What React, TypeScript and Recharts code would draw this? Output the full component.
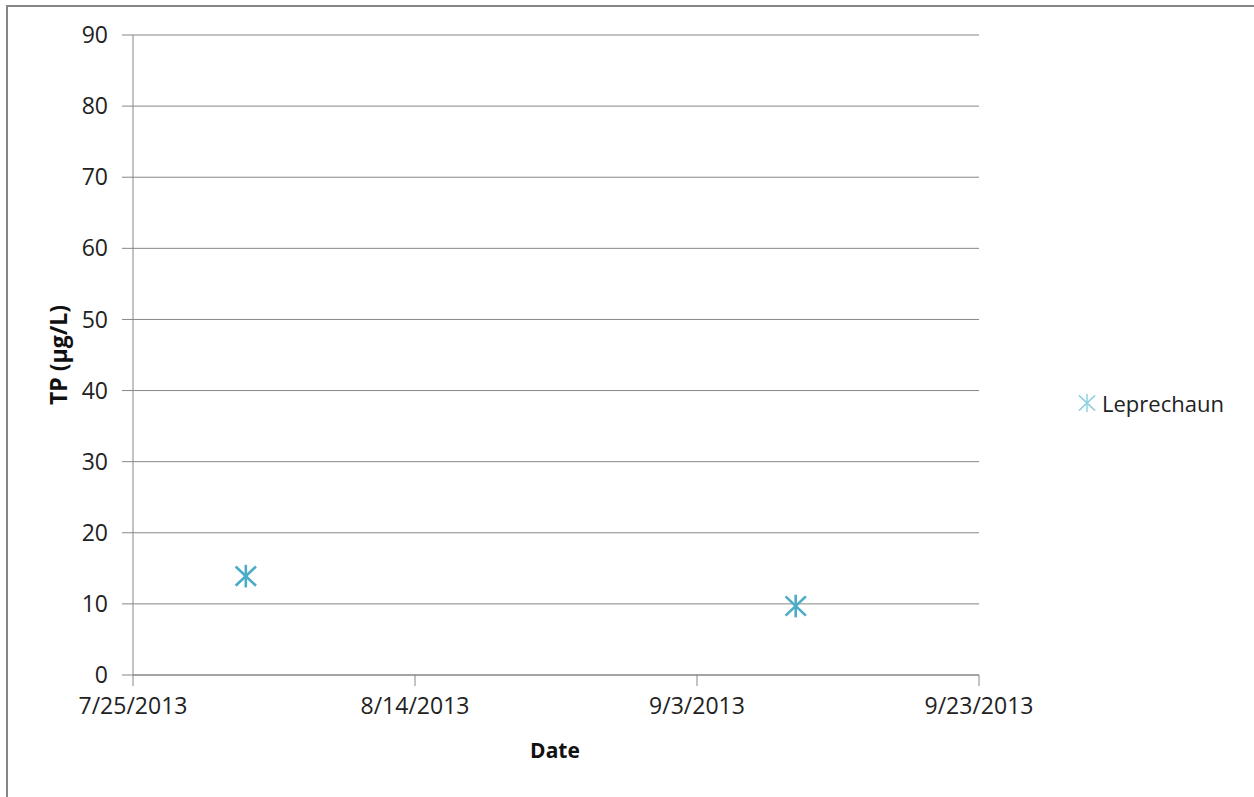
import { CartesianGrid, Scatter, ScatterChart, XAxis, YAxis } from "recharts";

// sample dates (M/D/YYYY) and total phosphorus readings
const SAMPLE_DATES = ["8/2/2013", "9/10/2013"];
const TP_VALUES = [13.9, 9.7];
const X_TICK_DATES = ["7/25/2013", "8/14/2013", "9/3/2013", "9/23/2013"];
const Y_TICKS = [0, 10, 20, 30, 40, 50, 60, 70, 80, 90];
const SERIES_NAME = "Leprechaun";

const COLOR = "#4bacc6";
const AXIS_GRAY = "#868686";
const FONT = "'Open Sans', sans-serif";

const toDay = (s: string) => {
  const [m, d, y] = s.split("/").map(Number);
  return Date.UTC(y, m - 1, d) / 86400000;
};

const fromDay = (n: number) => {
  const dt = new Date(n * 86400000);
  return `${dt.getUTCMonth() + 1}/${dt.getUTCDate()}/${dt.getUTCFullYear()}`;
};

const xTicks = X_TICK_DATES.map(toDay);
const points = SAMPLE_DATES.map((d, i) => ({ day: toDay(d), tp: TP_VALUES[i] }));

// star marker: vertical stroke plus an X
function Asterisk({ cx, cy, r = 11.3, width = 2.6, color = COLOR }: any) {
  const dx = r * 0.9;
  const dy = r * 0.85;
  return (
    <g stroke={color} strokeWidth={width} strokeLinecap="butt">
      <line x1={cx} y1={cy - r} x2={cx} y2={cy + r} />
      <line x1={cx - dx} y1={cy - dy} x2={cx + dx} y2={cy + dy} />
      <line x1={cx - dx} y1={cy + dy} x2={cx + dx} y2={cy - dy} />
    </g>
  );
}

export default function App() {
  return (
    <div
      style={{
        position: "absolute",
        left: 0,
        top: 0,
        width: 1254,
        height: 797,
        overflow: "hidden",
        background: "#fff",
        fontFamily: FONT,
      }}
    >
      <div
        style={{
          position: "absolute",
          left: 6,
          top: 5,
          width: 1400,
          height: 900,
          borderTop: `2px solid ${AXIS_GRAY}`,
          borderLeft: `2px solid ${AXIS_GRAY}`,
        }}
      />
      <ScatterChart
        width={1254}
        height={797}
        margin={{ top: 35, right: 275, bottom: 82, left: 73 }}
        style={{ position: "absolute", left: 0, top: 0 }}
      >
        <CartesianGrid vertical={false} stroke={AXIS_GRAY} strokeWidth={1} />
        <XAxis
          type="number"
          dataKey="day"
          domain={[xTicks[0], xTicks[xTicks.length - 1]]}
          ticks={xTicks}
          tickFormatter={fromDay}
          height={40}
          stroke={AXIS_GRAY}
          tickSize={11}
          tickMargin={12}
          tick={{ fill: "#222", fontSize: 23, fontFamily: FONT }}
          interval={0}
        />
        <YAxis
          type="number"
          dataKey="tp"
          domain={[0, 90]}
          ticks={Y_TICKS}
          width={60}
          stroke={AXIS_GRAY}
          tickSize={11}
          tickMargin={14}
          tick={{ fill: "#222", fontSize: 23, fontFamily: FONT }}
          interval={0}
        />
        <Scatter
          name={SERIES_NAME}
          data={points}
          shape={(p: any) => <Asterisk cx={p.cx} cy={p.cy} />}
          isAnimationActive={false}
        />
      </ScatterChart>

      {/* legend */}
      <div
        style={{
          position: "absolute",
          left: 1076,
          top: 388,
          display: "flex",
          alignItems: "center",
          fontSize: 22,
          color: "#222",
        }}
      >
        <svg width={22} height={22}>
          <Asterisk cx={11} cy={11} r={9} width={1.5} color="#8fd0e0" />
        </svg>
        <span style={{ marginLeft: 4 }}>{SERIES_NAME}</span>
      </div>

      <div
        style={{
          position: "absolute",
          left: 555,
          top: 750,
          transform: "translate(-50%, -50%)",
          fontWeight: 700,
          fontSize: 21,
          color: "#111",
        }}
      >
        Date
      </div>
      <div
        style={{
          position: "absolute",
          left: 58,
          top: 355,
          transform: "translate(-50%, -50%) rotate(-90deg)",
          fontWeight: 700,
          fontSize: 23,
          color: "#111",
          whiteSpace: "nowrap",
        }}
      >
        TP (µg/L)
      </div>
    </div>
  );
}
